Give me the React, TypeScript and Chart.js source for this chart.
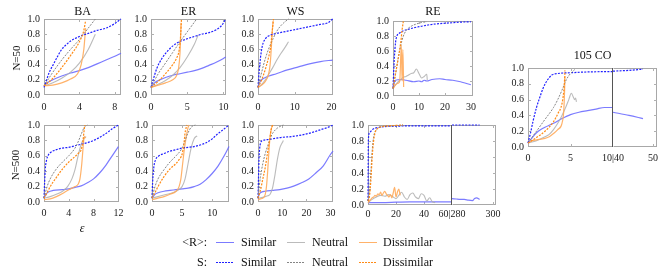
import React, { useEffect, useRef } from "react";
import { Chart, registerables } from "chart.js";
Chart.register(...registerables);

type Pt = [number, number];

const FONT = "'Liberation Serif', 'DejaVu Serif', serif";
Chart.defaults.font.family = FONT;
Chart.defaults.font.size = 10;
Chart.defaults.color = "#1a1a1a";

// ---------------- tick labels ----------------
const Y_TICKS = [0, 0.2, 0.4, 0.6, 0.8, 1.0];
const BA50_X_TICKS = [0, 4, 8];
const ER50_X_TICKS = [0, 5, 10];
const WS50_X_TICKS = [0, 10, 20];
const RE50_X_TICKS = [0, 10, 20, 30];
const BA500_X_TICKS = [0, 4, 8, 12];
const ER500_X_TICKS = [0, 5, 10];
const WS500_X_TICKS = [0, 10, 20, 30];
const RE500_X_TICKS_L = [0, 20, 40, 60];
const RE500_X_TICKS_R = [280, 300];
const CO_X_TICKS_L = [0, 5, 10];
const CO_X_TICKS_R = [40, 50];

const PANEL_TITLES = ["BA", "ER", "WS", "RE", "105 CO"];
const ROW_LABELS = ["N=50", "N=500"];
const LEGEND_ROWS = ["<R>:", "S:"];
const LEGEND_NAMES = ["Similar", "Neutral", "Dissimilar"];

// ---------------- BA, N=50 ----------------
const BA50_R_SIM: Pt[] = [[0,0.12],[0.5,0.17],[1,0.2],[2,0.25],[3,0.29],[4,0.32],[5,0.36],[6,0.41],[7,0.46],[8,0.51],[8.7,0.55]];
const BA50_R_NEU: Pt[] = [[0,0.12],[1,0.16],[2,0.22],[3,0.3],[4,0.42],[5,0.6],[5.8,0.8]];
const BA50_R_DIS: Pt[] = [[0,0.12],[1,0.13],[2,0.16],[3,0.21],[3.8,0.28],[4.2,0.4],[4.5,0.6],[4.7,0.88]];
const BA50_S_SIM: Pt[] = [[0,0.1],[0.3,0.2],[0.6,0.3],[1,0.39],[1.5,0.5],[2,0.6],[2.5,0.66],[3,0.71],[4,0.77],[5,0.81],[6,0.85],[7,0.88],[8,0.94],[8.7,1.0]];
const BA50_S_NEU: Pt[] = [[0,0.12],[1,0.3],[2,0.46],[3,0.6],[4,0.73],[5,0.88],[5.8,1.0]];
const BA50_S_DIS: Pt[] = [[0,0.12],[1,0.22],[2,0.36],[3,0.52],[4,0.7],[4.5,0.85],[4.7,0.98]];

// ---------------- ER, N=50 ----------------
const ER50_R_SIM: Pt[] = [[0,0.1],[0.5,0.16],[1,0.19],[2,0.23],[3,0.26],[4,0.28],[5,0.3],[6,0.32],[7,0.35],[8,0.39],[9,0.43],[10,0.48],[10.3,0.5]];
const ER50_R_NEU: Pt[] = [[0,0.1],[1,0.14],[2,0.19],[3,0.26],[4,0.36],[5,0.5],[6,0.67],[6.5,0.79]];
const ER50_R_DIS: Pt[] = [[0,0.1],[1,0.13],[2,0.16],[3,0.2],[3.5,0.25],[3.8,0.35],[4,0.55],[4.1,0.8],[4.15,0.95]];
const ER50_S_SIM: Pt[] = [[0,0.1],[0.3,0.2],[0.8,0.35],[1.5,0.48],[2.5,0.6],[3.5,0.68],[5,0.74],[6,0.77],[7,0.8],[8,0.82],[9,0.86],[9.8,0.92],[10.3,1.0]];
const ER50_S_NEU: Pt[] = [[0,0.1],[1,0.28],[2,0.42],[3,0.56],[4,0.7],[5,0.83],[6.3,1.0]];
const ER50_S_DIS: Pt[] = [[0,0.1],[1,0.18],[2,0.28],[3,0.4],[3.5,0.48],[3.9,0.6],[4.1,0.8],[4.2,1.0]];

// ---------------- WS, N=50 ----------------
const WS50_R_SIM: Pt[] = [[0,0.1],[0.5,0.17],[1,0.2],[2,0.23],[3,0.25],[5,0.28],[8,0.33],[11,0.37],[14,0.41],[17,0.44],[20.3,0.46]];
const WS50_R_NEU: Pt[] = [[0,0.1],[1,0.14],[2,0.2],[3,0.28],[4,0.36],[5,0.45],[6,0.53],[7,0.6],[8.3,0.7]];
const WS50_R_DIS: Pt[] = [[0,0.1],[1,0.13],[2,0.18],[2.8,0.26],[3.3,0.4],[3.6,0.6],[3.9,0.85],[4.1,0.97]];
const WS50_S_SIM: Pt[] = [[0,0.1],[0.3,0.3],[0.7,0.5],[1.2,0.65],[2,0.74],[3,0.78],[5,0.81],[8,0.84],[11,0.87],[14,0.9],[17,0.93],[19,0.95],[20.3,1.0]];
const WS50_S_NEU: Pt[] = [[0,0.1],[1,0.3],[2,0.48],[3,0.62],[4,0.73],[5,0.83],[6,0.9],[7,0.95],[8.3,1.0]];
const WS50_S_DIS: Pt[] = [[0,0.1],[1,0.2],[2,0.34],[2.8,0.48],[3.4,0.62],[3.8,0.8],[4.2,1.0]];

// ---------------- RE, N=50 ----------------
const RE50_R_SIM: Pt[] = [[0,0.12],[0.5,0.18],[1,0.21],[3,0.22],[5,0.21],[8,0.19],[10,0.2],[11,0.19],[12,0.21],[13,0.2],[15,0.22],[18,0.23],[20,0.22],[23,0.21],[26,0.19],[28,0.17],[30,0.15]];
const RE50_R_NEU: Pt[] = [[0,0.1],[1,0.15],[2,0.19],[3,0.22],[4,0.25],[5,0.26],[6,0.28],[7,0.3],[8,0.31],[9,0.36],[10,0.3],[11,0.24],[12,0.26],[13,0.29],[13.2,0.21]];
const RE50_R_DIS: Pt[] = [[0,0.1],[1,0.15],[2,0.17],[2.6,0.2],[3.2,0.68],[3.5,0.2],[3.8,0.62],[4.1,0.12]];
const RE50_S_SIM: Pt[] = [[0,0.1],[0.5,0.5],[1,0.72],[1.5,0.8],[2.5,0.84],[4,0.87],[6,0.89],[8,0.91],[11,0.93],[14,0.95],[18,0.965],[22,0.975],[26,0.985],[30,0.99]];
const RE50_S_NEU: Pt[] = [[0,0.1],[1,0.3],[2,0.5],[3,0.68],[4,0.8],[5,0.87],[7,0.93],[9,0.96],[11,0.98],[13,0.99]];
const RE50_S_DIS: Pt[] = [[0,0.1],[0.5,0.2],[1,0.3],[2,0.5],[3,0.72],[3.5,0.88],[4,1.0]];

// ---------------- BA, N=500 ----------------
const BA500_R_SIM: Pt[] = [[0,0.05],[0.3,0.1],[0.7,0.13],[1.5,0.15],[3,0.16],[4,0.17],[5,0.19],[6,0.21],[7,0.25],[8,0.3],[9,0.38],[10,0.48],[11,0.6],[12,0.72]];
const BA500_R_NEU: Pt[] = [[0,0.05],[1,0.07],[2,0.1],[3,0.14],[3.8,0.2],[4.5,0.3],[5,0.42],[5.5,0.6],[6,0.75],[6.5,0.83],[6.8,0.85]];
const BA500_R_DIS: Pt[] = [[0,0.03],[1,0.04],[2,0.07],[3,0.11],[4,0.16],[5,0.2],[5.5,0.23],[5.8,0.3],[6.1,0.5],[6.3,0.7],[6.5,0.85],[6.7,0.83]];
const BA500_S_SIM: Pt[] = [[0,0.05],[0.1,0.25],[0.2,0.42],[0.4,0.54],[0.7,0.61],[1,0.64],[2,0.68],[3,0.7],[4,0.71],[5,0.73],[6,0.75],[7,0.77],[8,0.8],[9,0.84],[10,0.89],[11,0.95],[12,1.0]];
const BA500_S_NEU: Pt[] = [[0,0.05],[0.5,0.2],[1,0.3],[2,0.43],[3,0.52],[4,0.6],[5,0.7],[5.5,0.78],[6,0.88],[6.5,0.97],[7,1.0]];
const BA500_S_DIS: Pt[] = [[0,0.05],[0.5,0.12],[1,0.2],[2,0.32],[3,0.43],[4,0.52],[5,0.59],[5.5,0.63],[6,0.68],[6.3,0.8],[6.5,0.95],[6.6,1.0]];

// ---------------- ER, N=500 ----------------
const ER500_R_SIM: Pt[] = [[0,0.05],[0.5,0.1],[1,0.12],[2,0.14],[3,0.15],[4,0.16],[5,0.17],[6,0.18],[7,0.2],[8,0.23],[9,0.29],[10,0.37],[11,0.47],[12,0.6],[12.8,0.72]];
const ER500_R_NEU: Pt[] = [[0,0.05],[1,0.07],[2,0.09],[3,0.11],[4,0.14],[5,0.2],[5.5,0.3],[6,0.5],[6.5,0.7],[7,0.82],[7.5,0.86]];
const ER500_R_DIS: Pt[] = [[0,0.03],[1,0.05],[2,0.07],[3,0.1],[4,0.14],[4.5,0.2],[4.8,0.3],[5.1,0.5],[5.4,0.7],[5.7,0.85],[6,0.97],[6.2,1.0]];
const ER500_S_SIM: Pt[] = [[0,0.05],[0.1,0.25],[0.3,0.45],[0.6,0.55],[1,0.59],[2,0.63],[3,0.66],[4,0.68],[5,0.7],[6,0.71],[7,0.72],[8,0.74],[9,0.77],[10,0.82],[11,0.89],[12,0.95],[12.8,1.0]];
const ER500_S_NEU: Pt[] = [[0,0.05],[0.5,0.2],[1,0.3],[2,0.42],[3,0.52],[4,0.6],[5,0.7],[5.5,0.8],[6,0.9],[6.5,0.97],[7.2,1.0]];
const ER500_S_DIS: Pt[] = [[0,0.05],[0.5,0.12],[1,0.2],[2,0.33],[3,0.43],[4,0.5],[4.5,0.55],[5,0.62],[5.3,0.75],[5.5,0.9],[5.8,1.0]];

// ---------------- WS, N=500 ----------------
const WS500_R_SIM: Pt[] = [[0,0.05],[0.5,0.1],[1,0.12],[3,0.14],[6,0.15],[9,0.16],[12,0.18],[15,0.21],[18,0.25],[21,0.3],[24,0.38],[27,0.47],[30,0.62],[31,0.66]];
const WS500_R_NEU: Pt[] = [[0,0.05],[2,0.06],[4,0.08],[5,0.1],[6,0.18],[7,0.35],[8,0.55],[9,0.7],[10,0.77],[10.5,0.8]];
const WS500_R_DIS: Pt[] = [[0,0.03],[1,0.04],[2,0.05],[3,0.1],[3.5,0.2],[4,0.4],[4.5,0.65],[5,0.85],[5.5,0.95],[6.2,1.0]];
const WS500_S_SIM: Pt[] = [[0,0.05],[0.2,0.3],[0.4,0.55],[0.7,0.7],[1,0.76],[2,0.8],[4,0.81],[6,0.82],[10,0.84],[14,0.85],[18,0.87],[22,0.9],[26,0.94],[29,0.97],[31,1.0]];
const WS500_S_NEU: Pt[] = [[0,0.05],[0.5,0.2],[1,0.32],[2,0.5],[3,0.63],[4,0.73],[5,0.82],[6,0.89],[8,0.96],[10.5,1.0]];
const WS500_S_DIS: Pt[] = [[0,0.05],[1,0.15],[2,0.3],[3,0.45],[4,0.65],[5,0.85],[5.5,0.95],[6,1.0]];

// ---------------- RE, N=500 (broken axis) ----------------
const RE500_R_SIM: Pt[] = [[0,0.03],[10,0.03],[20,0.035],[30,0.04],[40,0.04],[50,0.04],[60,0.04]];
const RE500_R_NEU: Pt[] = [[0,0.03],[3,0.07],[6,0.1],[9,0.12],[12,0.11],[15,0.13],[18,0.1],[20,0.08],[22,0.12],[24,0.16],[26,0.1],[28,0.07],[30,0.13],[32,0.15],[34,0.1],[36,0.08],[38,0.14],[40,0.12],[42,0.05],[44,0.09],[46,0.04],[48,0.03]];
const RE500_R_DIS: Pt[] = [[0,0.03],[1,0.05],[2,0.07],[3,0.09],[4,0.1],[5,0.12],[6,0.11],[7,0.14],[8,0.13],[9,0.16],[10,0.12],[11,0.15],[12,0.17],[13,0.14],[14,0.12],[15,0.1],[16,0.13],[17,0.09],[18,0.15],[19,0.22],[20,0.1],[21,0.16],[22,0.2],[23,0.12]];
const RE500_S_SIM: Pt[] = [[0,0.05],[0.3,0.82],[1,0.9],[2,0.92],[3,0.94],[5,0.96],[8,0.97],[12,0.98],[20,0.985],[30,0.99],[45,0.99],[60,0.99]];
const RE500_S_NEU: Pt[] = [[0,0.05],[1,0.15],[2,0.4],[3,0.68],[4,0.85],[6,0.94],[10,0.98],[20,0.99],[25,1.0]];
const RE500_S_DIS: Pt[] = [[0,0.05],[1,0.1],[2,0.3],[3,0.6],[4,0.8],[5,0.9],[6,0.94],[8,0.97],[10,0.98],[15,0.99],[20,0.995],[25,1.0]];
const RE500_R_SIM_TAIL: Pt[] = [[280,0.08],[282,0.075],[284,0.07],[286,0.07],[288,0.06],[290,0.055],[291,0.08],[292,0.09],[293.5,0.07]];
const RE500_S_SIM_TAIL: Pt[] = [[280,1.0],[284,1.0],[288,1.0],[293.5,1.0]];

// ---------------- 105 CO (broken axis) ----------------
const CO_R_SIM: Pt[] = [[0,0.05],[0.5,0.12],[1,0.18],[1.5,0.22],[2,0.25],[3,0.3],[4,0.36],[5,0.41],[6,0.44],[7,0.46],[8,0.48],[9,0.5],[10,0.5]];
const CO_R_NEU: Pt[] = [[0,0.05],[1,0.08],[2,0.13],[2.5,0.16],[3,0.22],[3.5,0.3],[4,0.4],[4.5,0.52],[4.8,0.6],[5.1,0.68],[5.3,0.64],[5.5,0.6],[5.6,0.62],[5.7,0.57]];
const CO_R_DIS: Pt[] = [[0,0.05],[0.5,0.08],[1,0.09],[2,0.11],[2.5,0.13],[3,0.17],[3.5,0.22],[4,0.3],[4.2,0.45],[4.3,0.7],[4.35,0.9]];
const CO_S_SIM: Pt[] = [[0,0.05],[0.3,0.18],[0.6,0.33],[1,0.5],[1.3,0.6],[1.8,0.75],[2.3,0.85],[2.8,0.91],[3.5,0.93],[5,0.94],[7,0.95],[10,0.955]];
const CO_S_NEU: Pt[] = [[0,0.05],[1,0.2],[2,0.35],[3,0.5],[3.5,0.6],[4,0.72],[4.5,0.85],[5,0.93],[5.5,0.98]];
const CO_S_DIS: Pt[] = [[0,0.05],[1,0.12],[2,0.2],[3,0.32],[3.5,0.42],[4,0.55],[4.2,0.7],[4.3,0.85],[4.35,0.97]];
const CO_R_SIM_TAIL: Pt[] = [[40,0.44],[44,0.4],[47.5,0.36]];
const CO_S_SIM_TAIL: Pt[] = [[40,0.96],[44,0.97],[47.5,0.985]];

// ---------------- styles (index: R sim, R neu, R dis, S sim, S neu, S dis) ----------------
const STYLES = [
  { color: "rgba(100,100,255,0.85)", dash: [] as number[], width: 1.2 },
  { color: "rgba(175,175,175,0.85)", dash: [] as number[], width: 1.1 },
  { color: "rgba(255,170,90,0.9)", dash: [] as number[], width: 1.2 },
  { color: "#2020ff", dash: [2, 1.3], width: 1.2 },
  { color: "#858585", dash: [2, 1.3], width: 1.0 },
  { color: "#ff8a14", dash: [2, 1.3], width: 1.2 },
];

type Spec = {
  left: number; top: number; w: number; h: number;
  xmin: number; xmax: number; xticks: number[];
  ylab: boolean; xpad: number;
  series: (Pt[] | null)[];
  xfmt?: (v: number) => string;
  breakLeft?: boolean; breakRight?: boolean;
};

const PANELS: Spec[] = [
  { left: 44, top: 19, w: 77, h: 76, xmin: 0, xmax: 8.7, xticks: BA50_X_TICKS, ylab: true, xpad: 6,
    series: [BA50_R_SIM, BA50_R_NEU, BA50_R_DIS, BA50_S_SIM, BA50_S_NEU, BA50_S_DIS] },
  { left: 151, top: 19, w: 75, h: 76, xmin: 0, xmax: 10.35, xticks: ER50_X_TICKS, ylab: true, xpad: 6,
    series: [ER50_R_SIM, ER50_R_NEU, ER50_R_DIS, ER50_S_SIM, ER50_S_NEU, ER50_S_DIS] },
  { left: 258, top: 19, w: 75, h: 76, xmin: 0, xmax: 20.4, xticks: WS50_X_TICKS, ylab: true, xpad: 6,
    series: [WS50_R_SIM, WS50_R_NEU, WS50_R_DIS, WS50_S_SIM, WS50_S_NEU, WS50_S_DIS] },
  { left: 393, top: 21, w: 80, h: 75, xmin: 0, xmax: 30.8, xticks: RE50_X_TICKS, ylab: true, xpad: 5,
    series: [RE50_R_SIM, RE50_R_NEU, RE50_R_DIS, RE50_S_SIM, RE50_S_NEU, RE50_S_DIS] },
  { left: 44, top: 125, w: 75, h: 77, xmin: 0, xmax: 12.1, xticks: BA500_X_TICKS, ylab: true, xpad: 5,
    series: [BA500_R_SIM, BA500_R_NEU, BA500_R_DIS, BA500_S_SIM, BA500_S_NEU, BA500_S_DIS] },
  { left: 152, top: 125, w: 77, h: 77, xmin: 0, xmax: 12.8, xticks: ER500_X_TICKS, ylab: true, xpad: 5,
    series: [ER500_R_SIM, ER500_R_NEU, ER500_R_DIS, ER500_S_SIM, ER500_S_NEU, ER500_S_DIS] },
  { left: 258, top: 125, w: 75, h: 77, xmin: 0, xmax: 31, xticks: WS500_X_TICKS, ylab: true, xpad: 5,
    series: [WS500_R_SIM, WS500_R_NEU, WS500_R_DIS, WS500_S_SIM, WS500_S_NEU, WS500_S_DIS] },
  { left: 368, top: 125, w: 84, h: 80, xmin: 0, xmax: 60, xticks: RE500_X_TICKS_L, ylab: true, xpad: 3,
    series: [RE500_R_SIM, RE500_R_NEU, RE500_R_DIS, RE500_S_SIM, RE500_S_NEU, RE500_S_DIS],
    xfmt: (v) => (v === 60 ? "60|280" : String(v)), breakRight: true },
  { left: 452, top: 125, w: 44, h: 80, xmin: 280, xmax: 301.5, xticks: RE500_X_TICKS_R, ylab: false, xpad: 3,
    series: [RE500_R_SIM_TAIL, null, null, RE500_S_SIM_TAIL, null, null],
    xfmt: (v) => (v === 280 ? "" : String(v)), breakLeft: true },
  { left: 528, top: 68, w: 85, h: 79, xmin: 0, xmax: 10, xticks: CO_X_TICKS_L, ylab: true, xpad: 5,
    series: [CO_R_SIM, CO_R_NEU, CO_R_DIS, CO_S_SIM, CO_S_NEU, CO_S_DIS],
    xfmt: (v) => (v === 10 ? "10|40" : String(v)), breakRight: true },
  { left: 613, top: 68, w: 44, h: 79, xmin: 40, xmax: 51, xticks: CO_X_TICKS_R, ylab: false, xpad: 5,
    series: [CO_R_SIM_TAIL, null, null, CO_S_SIM_TAIL, null, null],
    xfmt: (v) => (v === 40 ? "" : String(v)), breakLeft: true },
];

const framePlugin = {
  id: "frame",
  beforeDatasetsDraw(chart: any) {
    const o = chart.options.plugins.frame || {};
    const { left, right, top, bottom } = chart.chartArea;
    const ctx = chart.ctx;
    ctx.save();
    ctx.lineWidth = 1;
    ctx.strokeStyle = "#a8a8a8";
    ctx.beginPath();
    ctx.moveTo(left + 0.5, bottom - 0.5);
    ctx.lineTo(right - 0.5, bottom - 0.5);
    ctx.moveTo(left + 0.5, top + 0.5);
    ctx.lineTo(right - 0.5, top + 0.5);
    if (!o.breakLeft) { ctx.moveTo(left + 0.5, top); ctx.lineTo(left + 0.5, bottom); }
    if (!o.breakRight) { ctx.moveTo(right - 0.5, top); ctx.lineTo(right - 0.5, bottom); }
    ctx.stroke();
    // inward tick marks
    ctx.strokeStyle = "#b0b0b0";
    ctx.beginPath();
    const xs = chart.scales.x;
    for (const t of xs.ticks) {
      const px = Math.round(xs.getPixelForValue(t.value)) + 0.5;
      if (px < left + 2 || px > right - 2) continue;
      ctx.moveTo(px, bottom); ctx.lineTo(px, bottom - 3);
      ctx.moveTo(px, top); ctx.lineTo(px, top + 3);
    }
    const ys = chart.scales.y;
    for (const t of ys.ticks) {
      const py = Math.round(ys.getPixelForValue(t.value)) + 0.5;
      if (py < top + 2 || py > bottom - 2) continue;
      if (!o.breakLeft) { ctx.moveTo(left, py); ctx.lineTo(left + 3, py); }
      if (!o.breakRight) { ctx.moveTo(right, py); ctx.lineTo(right - 3, py); }
    }
    ctx.stroke();
    ctx.restore();
  },
  afterDatasetsDraw(chart: any) {
    const o = chart.options.plugins.frame || {};
    if (!o.breakRight) return;
    const { right, top, bottom } = chart.chartArea;
    const ctx = chart.ctx;
    ctx.save();
    ctx.strokeStyle = "#555";
    ctx.lineWidth = 1;
    ctx.beginPath();
    ctx.moveTo(right - 0.5, top);
    ctx.lineTo(right - 0.5, bottom);
    ctx.stroke();
    ctx.restore();
  },
};

function Panel({ spec }: { spec: Spec }) {
  const ref = useRef<HTMLCanvasElement>(null);
  const YW = spec.ylab ? 34 : 1;
  const PT = 8;
  const PR = 14;
  const XH = 20;
  const cw = YW + spec.w + PR;
  const chh = PT + spec.h + XH;
  useEffect(() => {
    if (!ref.current) return;
    const datasets: any[] = [];
    spec.series.forEach((d, i) => {
      if (!d) return;
      const st = STYLES[i];
      datasets.push({
        data: d.map(([x, y]) => ({ x, y })),
        borderColor: st.color,
        borderWidth: st.width,
        borderDash: st.dash,
        pointRadius: 0,
        fill: false,
        cubicInterpolationMode: "monotone",
        clip: 3,
        order: 6 - i,
      });
    });
    const tickFont = { family: FONT, size: 10 };
    const chart = new Chart(ref.current, {
      type: "line",
      data: { datasets },
      plugins: [framePlugin],
      options: {
        animation: false,
        responsive: false,
        devicePixelRatio: 1,
        events: [],
        font: { family: FONT, size: 10 },
        layout: { padding: { top: PT, right: PR, left: 0, bottom: 0 }, autoPadding: false },
        plugins: {
          legend: { display: false },
          tooltip: { enabled: false },
          frame: { breakLeft: !!spec.breakLeft, breakRight: !!spec.breakRight },
        } as any,
        scales: {
          x: {
            type: "linear",
            min: spec.xmin,
            max: spec.xmax,
            grid: { display: false, drawTicks: false },
            border: { display: false },
            afterBuildTicks: (s: any) => { s.ticks = spec.xticks.map((v) => ({ value: v })); },
            afterFit: (s: any) => { s.height = XH; s.paddingLeft = 0; s.paddingRight = 0; },
            ticks: {
              padding: spec.xpad,
              maxRotation: 0,
              autoSkip: false,
              color: "#1a1a1a",
              font: tickFont,
              callback: (v: any) => (spec.xfmt ? spec.xfmt(Number(v)) : String(v)),
            },
          },
          y: {
            type: "linear",
            min: 0,
            max: 1,
            grid: { display: false, drawTicks: false },
            border: { display: false },
            afterBuildTicks: (s: any) => { s.ticks = Y_TICKS.map((v) => ({ value: v })); },
            afterFit: (s: any) => { s.width = YW; s.paddingTop = 0; s.paddingBottom = 0; },
            ticks: {
              display: spec.ylab,
              padding: 4,
              autoSkip: false,
              color: "#1a1a1a",
              font: tickFont,
              callback: (v: any) => Number(v).toFixed(1),
            },
          },
        },
      } as any,
    });
    return () => chart.destroy();
  }, []);
  return (
    <canvas
      ref={ref}
      width={cw}
      height={chh}
      style={{ position: "absolute", left: spec.left - YW, top: spec.top - PT, width: cw, height: chh }}
    />
  );
}

function Txt(props: { x: number; y: number; text: string; size?: number; align?: "c" | "r" | "l"; italic?: boolean; rotate?: boolean }) {
  const { x, y, text, size = 12, align = "c", italic, rotate } = props;
  const tx = align === "c" ? "-50%" : align === "r" ? "-100%" : "0";
  return (
    <div
      style={{
        position: "absolute",
        left: x,
        top: y,
        transform: `translate(${tx}, -50%)${rotate ? " rotate(-90deg)" : ""}`,
        transformOrigin: rotate ? "50% 50%" : undefined,
        fontSize: size,
        fontStyle: italic ? "italic" : "normal",
        whiteSpace: "nowrap",
        lineHeight: 1,
        color: "#111",
        fontFamily: FONT,
      }}
    >
      {text}
    </div>
  );
}

function LegendLine({ x, y, idx }: { x: number; y: number; idx: number }) {
  const st = STYLES[idx];
  const dashed = st.dash.length > 0;
  return (
    <div
      style={{
        position: "absolute",
        left: x,
        top: y - 0.5,
        width: 18,
        height: dashed ? 1 : 1.5,
        background: dashed
          ? `repeating-linear-gradient(to right, ${st.color} 0 2px, transparent 2px 3px)`
          : st.color,
      }}
    />
  );
}

export default function App() {
  const legendY = [242, 262];
  const lineX = [216, 287, 359];
  const textX = [241, 312, 383];
  return (
    <div style={{ position: "fixed", left: 0, top: 0, width: 670, height: 278, background: "#fff", overflow: "hidden", fontFamily: FONT }}>
      {PANELS.map((p, i) => <Panel key={i} spec={p} />)}
      <Txt x={82.5} y={11} text={PANEL_TITLES[0]} />
      <Txt x={188.5} y={11} text={PANEL_TITLES[1]} />
      <Txt x={295.5} y={11} text={PANEL_TITLES[2]} />
      <Txt x={433} y={11} text={PANEL_TITLES[3]} />
      <Txt x={592.5} y={55} text={PANEL_TITLES[4]} />
      <Txt x={16} y={58} text={ROW_LABELS[0]} size={11} rotate />
      <Txt x={15} y={165} text={ROW_LABELS[1]} size={11} rotate />
      <Txt x={82} y={228} text="ε" size={12} italic />
      {LEGEND_ROWS.map((r, ri) => (
        <React.Fragment key={r}>
          <Txt x={207} y={legendY[ri]} text={r} align="r" />
          {LEGEND_NAMES.map((n, ni) => (
            <React.Fragment key={n}>
              <LegendLine x={lineX[ni]} y={legendY[ri]} idx={ri * 3 + ni} />
              <Txt x={textX[ni]} y={legendY[ri]} text={n} align="l" />
            </React.Fragment>
          ))}
        </React.Fragment>
      ))}
    </div>
  );
}
